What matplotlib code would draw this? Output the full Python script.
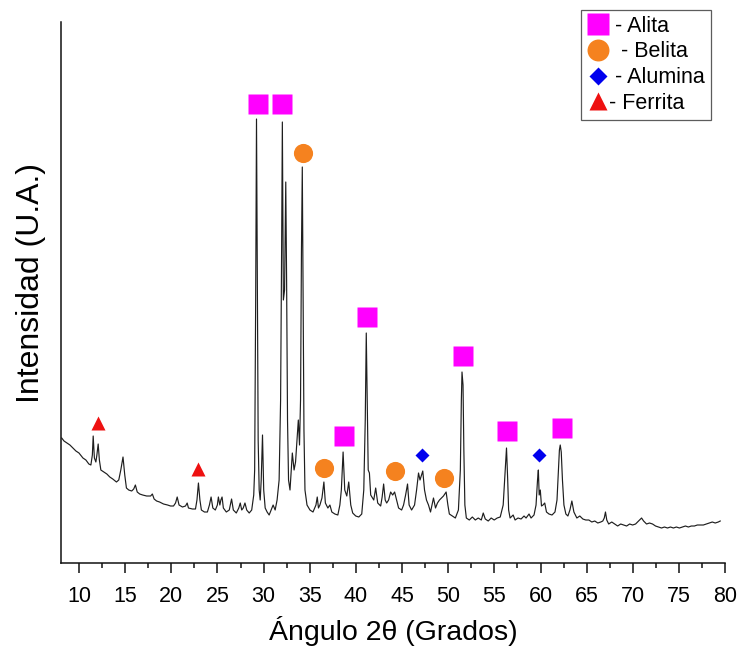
import matplotlib
matplotlib.use("Agg")
import matplotlib.pyplot as plt
from matplotlib.lines import Line2D
from matplotlib.ticker import MultipleLocator

plt.rcParams['font.family'] = ['Liberation Sans', 'DejaVu Sans']

# Diffractogram trace (2θ in degrees, intensity in arbitrary units)
two_theta = [
    8.13, 8.38, 8.70, 9.02, 9.35, 9.67, 10.00, 10.43, 10.75, 11.07, 11.29, 11.45, 11.54, 11.67,
    11.83, 11.94, 12.08, 12.21, 12.37, 12.69, 13.02, 13.34, 13.66, 14.06, 14.31, 14.53, 14.77,
    14.96, 15.14, 15.39, 15.71, 15.93, 16.11, 16.31, 16.58, 16.90, 17.33, 17.76, 17.95, 18.14,
    18.41, 18.73, 19.16, 19.60, 19.92, 20.24, 20.46, 20.64, 20.84, 21.21, 21.54, 21.72, 21.86,
    22.29, 22.62, 22.78, 22.94, 23.10, 23.26, 23.59, 23.91, 24.13, 24.31, 24.50, 24.77, 24.99,
    25.10, 25.26, 25.37, 25.50, 25.64, 25.96, 26.28, 26.53, 26.72, 27.04, 27.31, 27.47, 27.63,
    27.79, 27.98, 28.17, 28.44, 28.71, 28.93, 29.03, 29.14, 29.23, 29.33, 29.41, 29.52, 29.63,
    29.74, 29.88, 30.01, 30.17, 30.38, 30.60, 30.81, 31.03, 31.25, 31.46, 31.68, 31.84, 31.95,
    32.03, 32.14, 32.27, 32.40, 32.49, 32.59, 32.70, 32.86, 33.11, 33.30, 33.46, 33.62, 33.76,
    33.89, 34.00, 34.10, 34.19, 34.29, 34.37, 34.48, 34.70, 35.02, 35.35, 35.67, 35.81, 35.94,
    36.10, 36.32, 36.53, 36.69, 36.96, 37.18, 37.39, 37.72, 38.04, 38.26, 38.42, 38.61, 38.79,
    39.01, 39.22, 39.44, 39.65, 39.98, 40.31, 40.63, 40.85, 41.01, 41.12, 41.22, 41.33, 41.46,
    41.60, 41.93, 42.14, 42.36, 42.68, 42.84, 43.00, 43.17, 43.33, 43.54, 43.76, 43.98, 44.19,
    44.41, 44.62, 44.95, 45.16, 45.38, 45.59, 45.76, 46.03, 46.35, 46.57, 46.78, 46.94, 47.10,
    47.24, 47.43, 47.64, 47.86, 48.08, 48.40, 48.62, 48.83, 49.05, 49.26, 49.48, 49.77, 49.96,
    50.12, 50.45, 50.77, 51.10, 51.31, 51.42, 51.49, 51.60, 51.69, 51.80, 51.96, 52.28, 52.61,
    52.93, 53.25, 53.58, 53.79, 54.01, 54.33, 54.65, 54.98, 55.30, 55.63, 55.95, 56.17, 56.31,
    56.44, 56.54, 56.70, 57.03, 57.24, 57.56, 57.89, 58.21, 58.43, 58.75, 58.97, 59.29, 59.51,
    59.67, 59.76, 59.85, 59.97, 60.10, 60.26, 60.45, 60.64, 60.91, 61.24, 61.56, 61.78, 61.94,
    62.04, 62.13, 62.24, 62.37, 62.53, 62.74, 62.96, 63.18, 63.39, 63.61, 63.93, 64.25, 64.58,
    64.90, 65.23, 65.55, 65.87, 66.20, 66.52, 66.74, 66.90, 67.03, 67.17, 67.38, 67.71, 68.03,
    68.35, 68.68, 69.00, 69.32, 69.65, 69.97, 70.29, 70.51, 70.72, 70.94, 71.16, 71.48, 71.80,
    72.13, 72.45, 72.77, 73.10, 73.42, 73.75, 74.07, 74.39, 74.71, 75.04, 75.36, 75.69, 76.01,
    76.33, 76.66, 76.98, 77.30, 77.63, 77.95, 78.27, 78.60, 78.92, 79.25, 79.46,
]
intensity = [
    125, 122, 120, 118, 115, 112, 110, 105, 103, 99, 98, 108, 127, 105,
    101, 108, 119, 103, 93, 91, 89, 86, 84, 81, 83, 93, 106,
    88, 75, 73, 72, 74, 78, 71, 69, 68, 67, 67, 69, 64,
    62, 61, 59, 58, 57, 57, 60, 66, 58, 56, 57, 60, 55,
    54, 54, 63, 80, 63, 53, 51, 51, 58, 66, 55, 53, 58,
    66, 58, 63, 66, 55, 51, 53, 64, 53, 50, 55, 60, 53,
    55, 60, 53, 50, 53, 68, 93, 263, 444, 263, 123, 73, 63,
    83, 128, 73, 55, 51, 48, 53, 58, 53, 63, 83, 163, 313,
    441, 263, 273, 381, 283, 143, 83, 73, 110, 93, 101, 123, 143,
    118, 163, 313, 396, 243, 133, 73, 58, 53, 51, 58, 66, 55,
    58, 65, 81, 60, 55, 58, 51, 49, 48, 58, 73, 111, 73,
    67, 81, 58, 50, 47, 46, 49, 73, 143, 230, 163, 93, 90,
    68, 63, 75, 60, 57, 66, 79, 63, 60, 63, 71, 68, 71,
    63, 55, 53, 58, 68, 79, 58, 53, 58, 73, 90, 83, 88,
    92, 73, 63, 58, 51, 65, 55, 60, 63, 65, 67, 71, 58,
    49, 47, 45, 53, 93, 163, 191, 178, 113, 58, 45, 43, 46,
    43, 45, 43, 50, 44, 42, 45, 43, 45, 46, 58, 93, 115,
    83, 53, 45, 48, 43, 45, 44, 47, 45, 49, 45, 48, 58,
    83, 93, 68, 73, 57, 58, 60, 51, 49, 48, 51, 63, 93,
    113, 118, 111, 83, 58, 49, 47, 53, 62, 51, 45, 47, 44,
    43, 43, 41, 42, 40, 41, 42, 45, 51, 43, 39, 41, 39,
    37, 39, 38, 37, 39, 38, 39, 41, 43, 45, 42, 39, 40,
    39, 37, 36, 35, 36, 35, 36, 35, 36, 35, 36, 37, 36,
    37, 37, 38, 38, 38, 39, 40, 41, 40, 41, 42,
]

# Phase identification markers (2θ, intensity)
alita_x = [29.34, 32.03, 38.71, 41.22, 51.56, 56.31, 62.35]
alita_y = [459, 459, 127, 246, 207, 132, 135]
belita_x = [34.27, 36.53, 44.27, 49.55]
belita_y = [410, 95, 92, 85]
alumina_x = [47.21, 59.80]
alumina_y = [108, 108]
ferrita_x = [12.01, 22.86]
ferrita_y = [140, 94]

x_ticks = list(range(10, 81, 5))

c_alita = '#ff00ff'
c_belita = '#f5821f'
c_alumina = '#0000ee'
c_ferrita = '#ee1111'

fig = plt.figure(figsize=(7.37, 6.49), dpi=100)
ax = fig.add_axes([0.0821, 0.1325, 0.9019, 0.8336])

ax.plot(two_theta, intensity, color='#1e1e1e', lw=0.85)

ax.plot(alita_x, alita_y, ls='none', marker='s', ms=13.8, color=c_alita, mec='none')
ax.plot(belita_x, belita_y, ls='none', marker='o', ms=13.8, color=c_belita, mec='none')
ax.plot(alumina_x, alumina_y, ls='none', marker='D', ms=7.5, color=c_alumina, mec='none')
ax.plot(ferrita_x, ferrita_y, ls='none', marker='^', ms=10.5, color=c_ferrita, mec='none')

ax.set_xlim(8, 80)
ax.set_ylim(0, 541)
ax.set_xticks(x_ticks)
ax.xaxis.set_minor_locator(MultipleLocator(2.5))
ax.set_yticks([])
for side in ('top', 'right'):
    ax.spines[side].set_visible(False)
for side in ('left', 'bottom'):
    ax.spines[side].set_linewidth(1.1)
    ax.spines[side].set_color('#111111')
ax.tick_params(axis='x', which='major', length=7.5, width=1.1, labelsize=15.5, pad=9,
               color='#111111')
ax.tick_params(axis='x', which='minor', length=3.8, width=1.1, color='#111111')

ax.set_xlabel('Ángulo 2θ (Grados)', fontsize=20.5)
ax.xaxis.set_label_coords(0.5, -0.098)
ax.set_ylabel('Intensidad (U.A.)', fontsize=23)
ax.yaxis.set_label_coords(-0.022, 0.517)

handles = [
    Line2D([], [], ls='none', marker='s', ms=15.8, color=c_alita, mec='none'),
    Line2D([], [], ls='none', marker='o', ms=15.8, color=c_belita, mec='none'),
    Line2D([], [], ls='none', marker='D', ms=9, color=c_alumina, mec='none'),
    Line2D([], [], ls='none', marker='^', ms=13, color=c_ferrita, mec='none'),
]
labels = [' - Alita', '  - Belita', ' - Alumina', '- Ferrita']
leg = fig.legend(handles, labels, loc='upper right', bbox_to_anchor=(0.965, 0.985),
                 bbox_transform=fig.transFigure, fontsize=15.5, frameon=True, fancybox=False,
                 handlelength=1.05, handletextpad=0.0, labelspacing=0.22, borderpad=0.28,
                 borderaxespad=0)
leg.get_frame().set_edgecolor('#333333')
leg.get_frame().set_linewidth(0.9)

fig.savefig('out.png', dpi=100)
